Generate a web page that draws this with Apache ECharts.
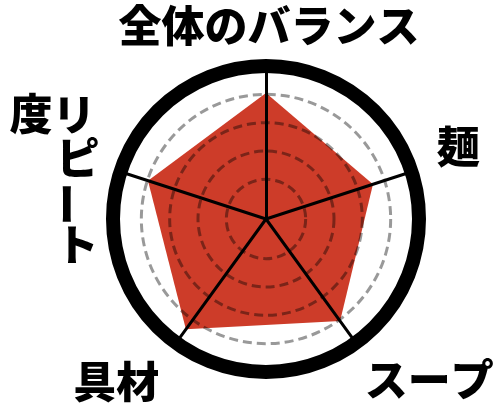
<!DOCTYPE html>
<html>
<head>
<meta charset="utf-8">
<script src="https://cdn.jsdelivr.net/npm/echarts@6/dist/echarts.min.js"></script>
<style>
html,body{margin:0;padding:0;background:#fff;}
#chart{width:500px;height:410px;}
</style>
</head>
<body>
<div id="chart"></div>
<script>
// ---- data ----
const indicatorNames = ['全体のバランス', 'リピート度', '具材', 'スープ', '麺'];
const scores = [4.05, 3.98, 4.41, 4.05, 3.57];
const ringValues = [1, 2, 3, 4];
const scaleMin = -0.4;
const scaleMax = 5;
const verticalName = 'リピート度';

// ---- layout / style ----
const CX = 266, CY = 219, R = 153;
const FONT = '"Noto Sans CJK JP", "Noto Sans CJK SC", sans-serif';
const FS = 43;
const FW = 900;
const labelPads = {
  '全体のバランス': [0, 0, 4, 6],
  '具材': [54, 8, 0, 0],
  'スープ': [50, 0, 0, 0],
  '麺': [0, 0, 40, 11]
};
const rich = {};
indicatorNames.forEach(function (n, i) {
  rich['l' + i] = {
    fontSize: FS, fontWeight: FW, fontFamily: FONT, color: '#000',
    padding: labelPads[n] || 0
  };
});

// vertical label (tategaki): column 1 'リピート', column 2 '度'
const vChars = verticalName.split('');
const vPos = [[74, 115], [78, 158], [66, 204], [77, 245], [31, 114]];
const vertChildren = vChars.map(function (ch, i) {
  return {
    type: 'text',
    x: vPos[i][0], y: vPos[i][1],
    rotation: ch === 'ー' ? -Math.PI / 2 : 0,
    style: {
      text: ch, font: FW + ' ' + FS + 'px ' + FONT, fill: '#000',
      align: 'center', verticalAlign: 'middle'
    }
  };
});

const chart = echarts.init(document.getElementById('chart'), null, {renderer: 'canvas'});
chart.setOption({
  animation: false,
  backgroundColor: '#fff',
  polar: { center: [CX, CY], radius: R },
  angleAxis: { type: 'value', show: false, min: 0, max: 360 },
  radiusAxis: {
    type: 'value', min: scaleMin, max: scaleMax, z: 3,
    axisLine: { show: false }, axisLabel: { show: false },
    axisTick: { show: false, customValues: ringValues },
    splitLine: { show: true, lineStyle: { color: 'rgba(0,0,0,0.4)', width: 3, type: [9, 5] } }
  },
  radar: {
    center: [CX, CY], radius: R, startAngle: 90, shape: 'circle',
    splitNumber: 1, z: 4, nameGap: 15,
    indicator: indicatorNames.map(function (n) { return { name: n, min: scaleMin, max: scaleMax }; }),
    axisName: {
      color: '#000', fontSize: FS, fontWeight: FW, fontFamily: FONT,
      formatter: function (value) {
        if (value === verticalName) return '';
        return '{l' + indicatorNames.indexOf(value) + '|' + value + '}';
      },
      rich: rich
    },
    axisLine: { lineStyle: { color: '#000', width: 3 } },
    splitLine: { lineStyle: { color: ['rgba(0,0,0,0)', '#000'], width: 14 } },
    splitArea: { show: false }
  },
  series: [{
    type: 'radar', z: 2, symbol: 'none',
    lineStyle: { width: 0 },
    areaStyle: { color: '#cd3c29', opacity: 1 },
    data: [{ value: scores, name: '評価' }]
  }],
  graphic: [{ type: 'group', children: vertChildren }]
});
</script>
</body>
</html>
